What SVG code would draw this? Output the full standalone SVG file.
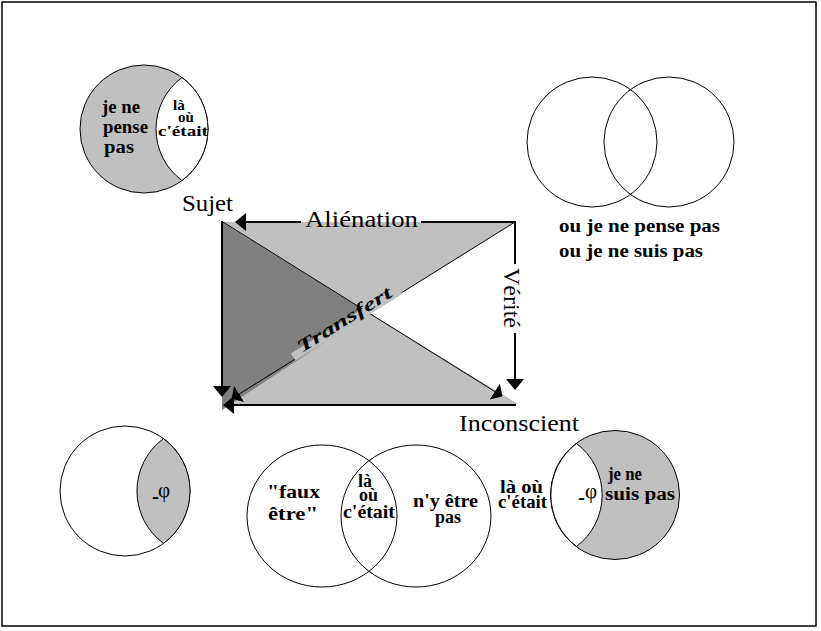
<svg xmlns="http://www.w3.org/2000/svg" width="821" height="631" viewBox="0 0 821 631">
<defs>
<style>
.b{font-family:'Liberation Serif','DejaVu Serif',serif;font-weight:bold;font-size:18px;fill:#000}
.s{font-size:15px}
.r{font-family:'Liberation Serif','DejaVu Serif',serif;font-size:23px;fill:#000}
.phi{font-family:'Liberation Serif','DejaVu Serif',serif;font-size:21px;fill:#000}
.o{fill:none;stroke:#000;stroke-width:1}
.gf{fill:#c0c0c0;stroke:#000;stroke-width:1}
.wf{fill:#fff;stroke:#000;stroke-width:1}
.g{fill:#c0c0c0}
.dk{fill:#808080}
.edge{fill:none;stroke:#000;stroke-width:2}
.diag{fill:none;stroke:#000;stroke-width:1}
</style>
<marker id="ah" viewBox="0 -10 11 20" refX="10" refY="0" markerWidth="11" markerHeight="20" markerUnits="userSpaceOnUse" orient="auto">
<path d="M0,-9 L11,0 L0,9 z" fill="#000"/>
</marker>
<marker id="ahs" viewBox="0 -10 9 20" refX="8.5" refY="0" markerWidth="9" markerHeight="20" markerUnits="userSpaceOnUse" orient="auto">
<path d="M0,-9.5 L9,0 L0,9.5 z" fill="#000"/>
</marker>
</defs>
<rect x="0" y="0" width="821" height="631" fill="#fff"/>
<rect id="frame" x="2" y="2" width="814" height="624" fill="none" stroke="#000" stroke-width="1.5"/>

<g id="venn-top-left">
<circle class="gf" cx="144" cy="129" r="64"/>
<path class="wf" d="M182,77.5 A64,64 0 0 1 182,180.5 A64,64 0 0 1 182,77.5 Z"/>
<text class="b" x="102" y="113" textLength="38" lengthAdjust="spacingAndGlyphs">je ne</text>
<text class="b" x="103" y="133" textLength="45" lengthAdjust="spacingAndGlyphs">pense</text>
<text class="b" x="104" y="153" textLength="30" lengthAdjust="spacingAndGlyphs">pas</text>
<text class="b s" x="173" y="110">là</text>
<text class="b s" x="178" y="122">où</text>
<text class="b s" x="158" y="136" textLength="50" lengthAdjust="spacingAndGlyphs">c'était</text>
</g>

<g id="venn-top-right">
<circle class="o" cx="592" cy="142" r="65"/>
<circle class="o" cx="669" cy="142" r="65"/>
<text class="b" x="559" y="232" textLength="161" lengthAdjust="spacingAndGlyphs">ou je ne pense pas</text>
<text class="b" x="559" y="257" textLength="144" lengthAdjust="spacingAndGlyphs">ou je ne suis pas</text>
</g>

<g id="square">
<polygon class="g" points="222,222 515,222 369,313"/>
<polygon class="g" points="222,406 518,404 369,313"/>
<polygon class="dk" points="222,222 369,313 222,410"/>
</g>

<g id="connectors">
<path class="diag" d="M223,222 L502,396" marker-end="url(#ahs)"/>
<path class="diag" d="M515,222 L232,398.5" marker-end="url(#ahs)"/>
<path class="edge" d="M421,222 H515 V264"/>
<path class="edge" d="M301,222 H236" marker-end="url(#ah)"/>
<path class="edge" d="M222,221 V396" marker-end="url(#ah)"/>
<path class="edge" d="M516,405 H224" marker-end="url(#ah)"/>
<path class="edge" d="M515,333 V389" marker-end="url(#ah)"/>
</g>

<g id="transfert">
<g transform="translate(231,399) rotate(-31.93)">
<rect class="g" x="75" y="-7" width="126" height="8.5"/>
<text class="b" font-style="italic" font-size="28" x="84" y="-1.5" textLength="108" lengthAdjust="spacingAndGlyphs">Transfert</text>
</g>
</g>

<g id="sujet"><text class="r" x="182" y="211" textLength="51" lengthAdjust="spacingAndGlyphs">Sujet</text></g>
<g id="alienation"><text class="r" x="305" y="227" textLength="113" lengthAdjust="spacingAndGlyphs">Aliénation</text></g>
<g id="verite"><text class="r" transform="translate(504,298) rotate(90)" text-anchor="middle" textLength="60" lengthAdjust="spacingAndGlyphs">Vérité</text></g>
<g id="inconscient"><text class="r" x="459" y="431" textLength="120" lengthAdjust="spacingAndGlyphs">Inconscient</text></g>

<g id="venn-bottom-left">
<circle class="wf" cx="125" cy="491" r="65"/>
<path class="gf" d="M163.5,438.6 A65,65 0 0 1 163.5,543.4 A65,65 0 0 1 163.5,438.6 Z"/>
<text class="phi" x="152" y="503"><tspan font-weight="bold">-</tspan><tspan x="158" y="497">φ</tspan></text>
</g>

<g id="venn-bottom-middle">
<ellipse class="o" cx="322" cy="516" rx="75" ry="71"/>
<ellipse class="o" cx="416" cy="516" rx="75" ry="71"/>
<text class="b" x="267" y="498" textLength="53" lengthAdjust="spacingAndGlyphs">"faux</text>
<text class="b" x="268" y="520" textLength="50" lengthAdjust="spacingAndGlyphs">être"</text>
<text class="b" font-size="17" x="358" y="487">là</text>
<text class="b" font-size="17" x="359" y="501">où</text>
<text class="b" font-size="17" x="343" y="518" textLength="52" lengthAdjust="spacingAndGlyphs">c'était</text>
<text class="b" x="413" y="507" textLength="65" lengthAdjust="spacingAndGlyphs">n'y être</text>
<text class="b" font-size="17" x="435" y="523">pas</text>
</g>

<g id="label-la-ou">
<text class="b" font-size="16" x="500" y="493" textLength="43" lengthAdjust="spacingAndGlyphs">là où</text>
<text class="b" font-size="16" x="498" y="508" textLength="49" lengthAdjust="spacingAndGlyphs">c'était</text>
</g>

<g id="venn-bottom-right">
<circle class="gf" cx="615" cy="495" r="64.5"/>
<path class="wf" d="M576.5,443.5 A64.5,64.5 0 0 0 576.5,546.5 A64.5,64.5 0 0 0 576.5,443.5 Z"/>
<text class="phi" x="578" y="504"><tspan font-weight="bold">-</tspan><tspan x="585" y="498">φ</tspan></text>
<text class="b" font-size="17" x="608" y="480" textLength="34" lengthAdjust="spacingAndGlyphs">je ne</text>
<text class="b" font-size="17" x="605" y="500" textLength="70" lengthAdjust="spacingAndGlyphs">suis pas</text>
</g>
</svg>
